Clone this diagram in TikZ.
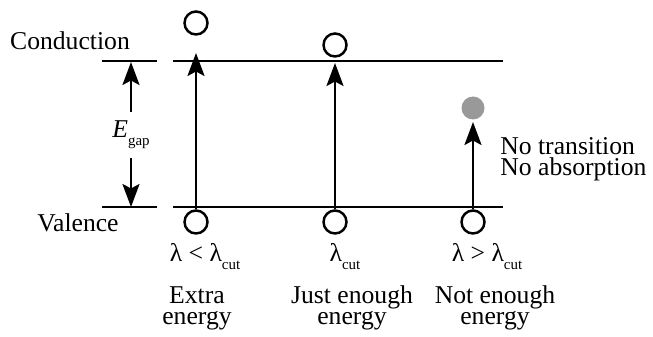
\documentclass[tikz,border=0pt]{standalone}
\usepackage{fontspec}
\setmainfont{Liberation Serif}
\usetikzlibrary{arrows.meta,positioning}
\newcommand{\lowsub}[1]{\raisebox{-4.5pt}{\fontsize{8.5}{9}\selectfont #1}}

\begin{document}
\begin{tikzpicture}[
  x=0.02cm, y=-0.02cm,
  band/.style={line width=1.7pt},
  electron/.style={circle, draw, line width=1.4pt, minimum size=0.46cm, inner sep=0pt},
  ghost/.style={circle, fill=black!40, minimum size=0.46cm, inner sep=0pt},
  lbl/.style={font=\fontsize{14.6}{12}\selectfont, inner sep=0pt, align=center},
  arrow/.style={-{Stealth[length=0.46cm,width=0.34cm,inset=0.09cm]}, line width=1.4pt}
]
\useasboundingbox (0,0) rectangle (653,337);

% Bands
\coordinate (cL1) at (102,61);  \coordinate (cL2) at (157,61);
\coordinate (cM1) at (173,61);  \coordinate (cM2) at (503,61);
\coordinate (vL1) at (102,207); \coordinate (vL2) at (157,207);
\coordinate (vM1) at (173,207); \coordinate (vM2) at (503,207);
\draw[band] (cL1) -- (cL2);
\draw[band] (cM1) -- (cM2);
\draw[band] (vL1) -- (vL2);
\draw[band] (vM1) -- (vM2);

\node[lbl, anchor=base] (cond) at (70,50) {Conduction};
\node[lbl, anchor=base] (val) at (78,232) {Valence};

% Gap
\coordinate (gtop) at (131,62);
\coordinate (gbot) at (131,207);
\node[lbl, minimum height=0.9cm] (egap) at (131,135) {\textit{E}\lowsub{gap}};
\draw[arrow] (egap.north) -- (gtop);
\draw[arrow] (egap.south) -- (gbot);

% Electrons
\node[electron] (v1) at (196,222) {};
\node[electron] (v2) at (335,222) {};
\node[electron] (v3) at (473,222) {};
\node[electron] (c1) at (196,23) {};
\node[electron] (c2) at (335,45) {};
\node[ghost] (c3) at (473,108) {};

% Transitions
\coordinate (t1) at (196,53);
\coordinate (t2) at (335,63);
\coordinate (t3) at (473,122);
\draw[arrow] (v1.north) -- (t1);
\draw[arrow] (v2.north) -- (t2);
\draw[arrow] (v3.north) -- (t3);

\node[lbl, anchor=base west, align=left] (note) at (500,176) {No transition\\No absorption};

% Wavelengths
\node[lbl, anchor=base] (w1) at (205,262) {λ < λ\lowsub{cut}};
\node[lbl, anchor=base] (w2) at (345,262) {λ\lowsub{cut}};
\node[lbl, anchor=base] (w3) at (487,262) {λ > λ\lowsub{cut}};

\node[lbl, anchor=base] (e1) at (197,325) {Extra\\energy};
\node[lbl, anchor=base] (e2) at (352,325) {Just enough\\energy};
\node[lbl, anchor=base] (e3) at (495,325) {Not enough\\energy};

\end{tikzpicture}
\end{document}
